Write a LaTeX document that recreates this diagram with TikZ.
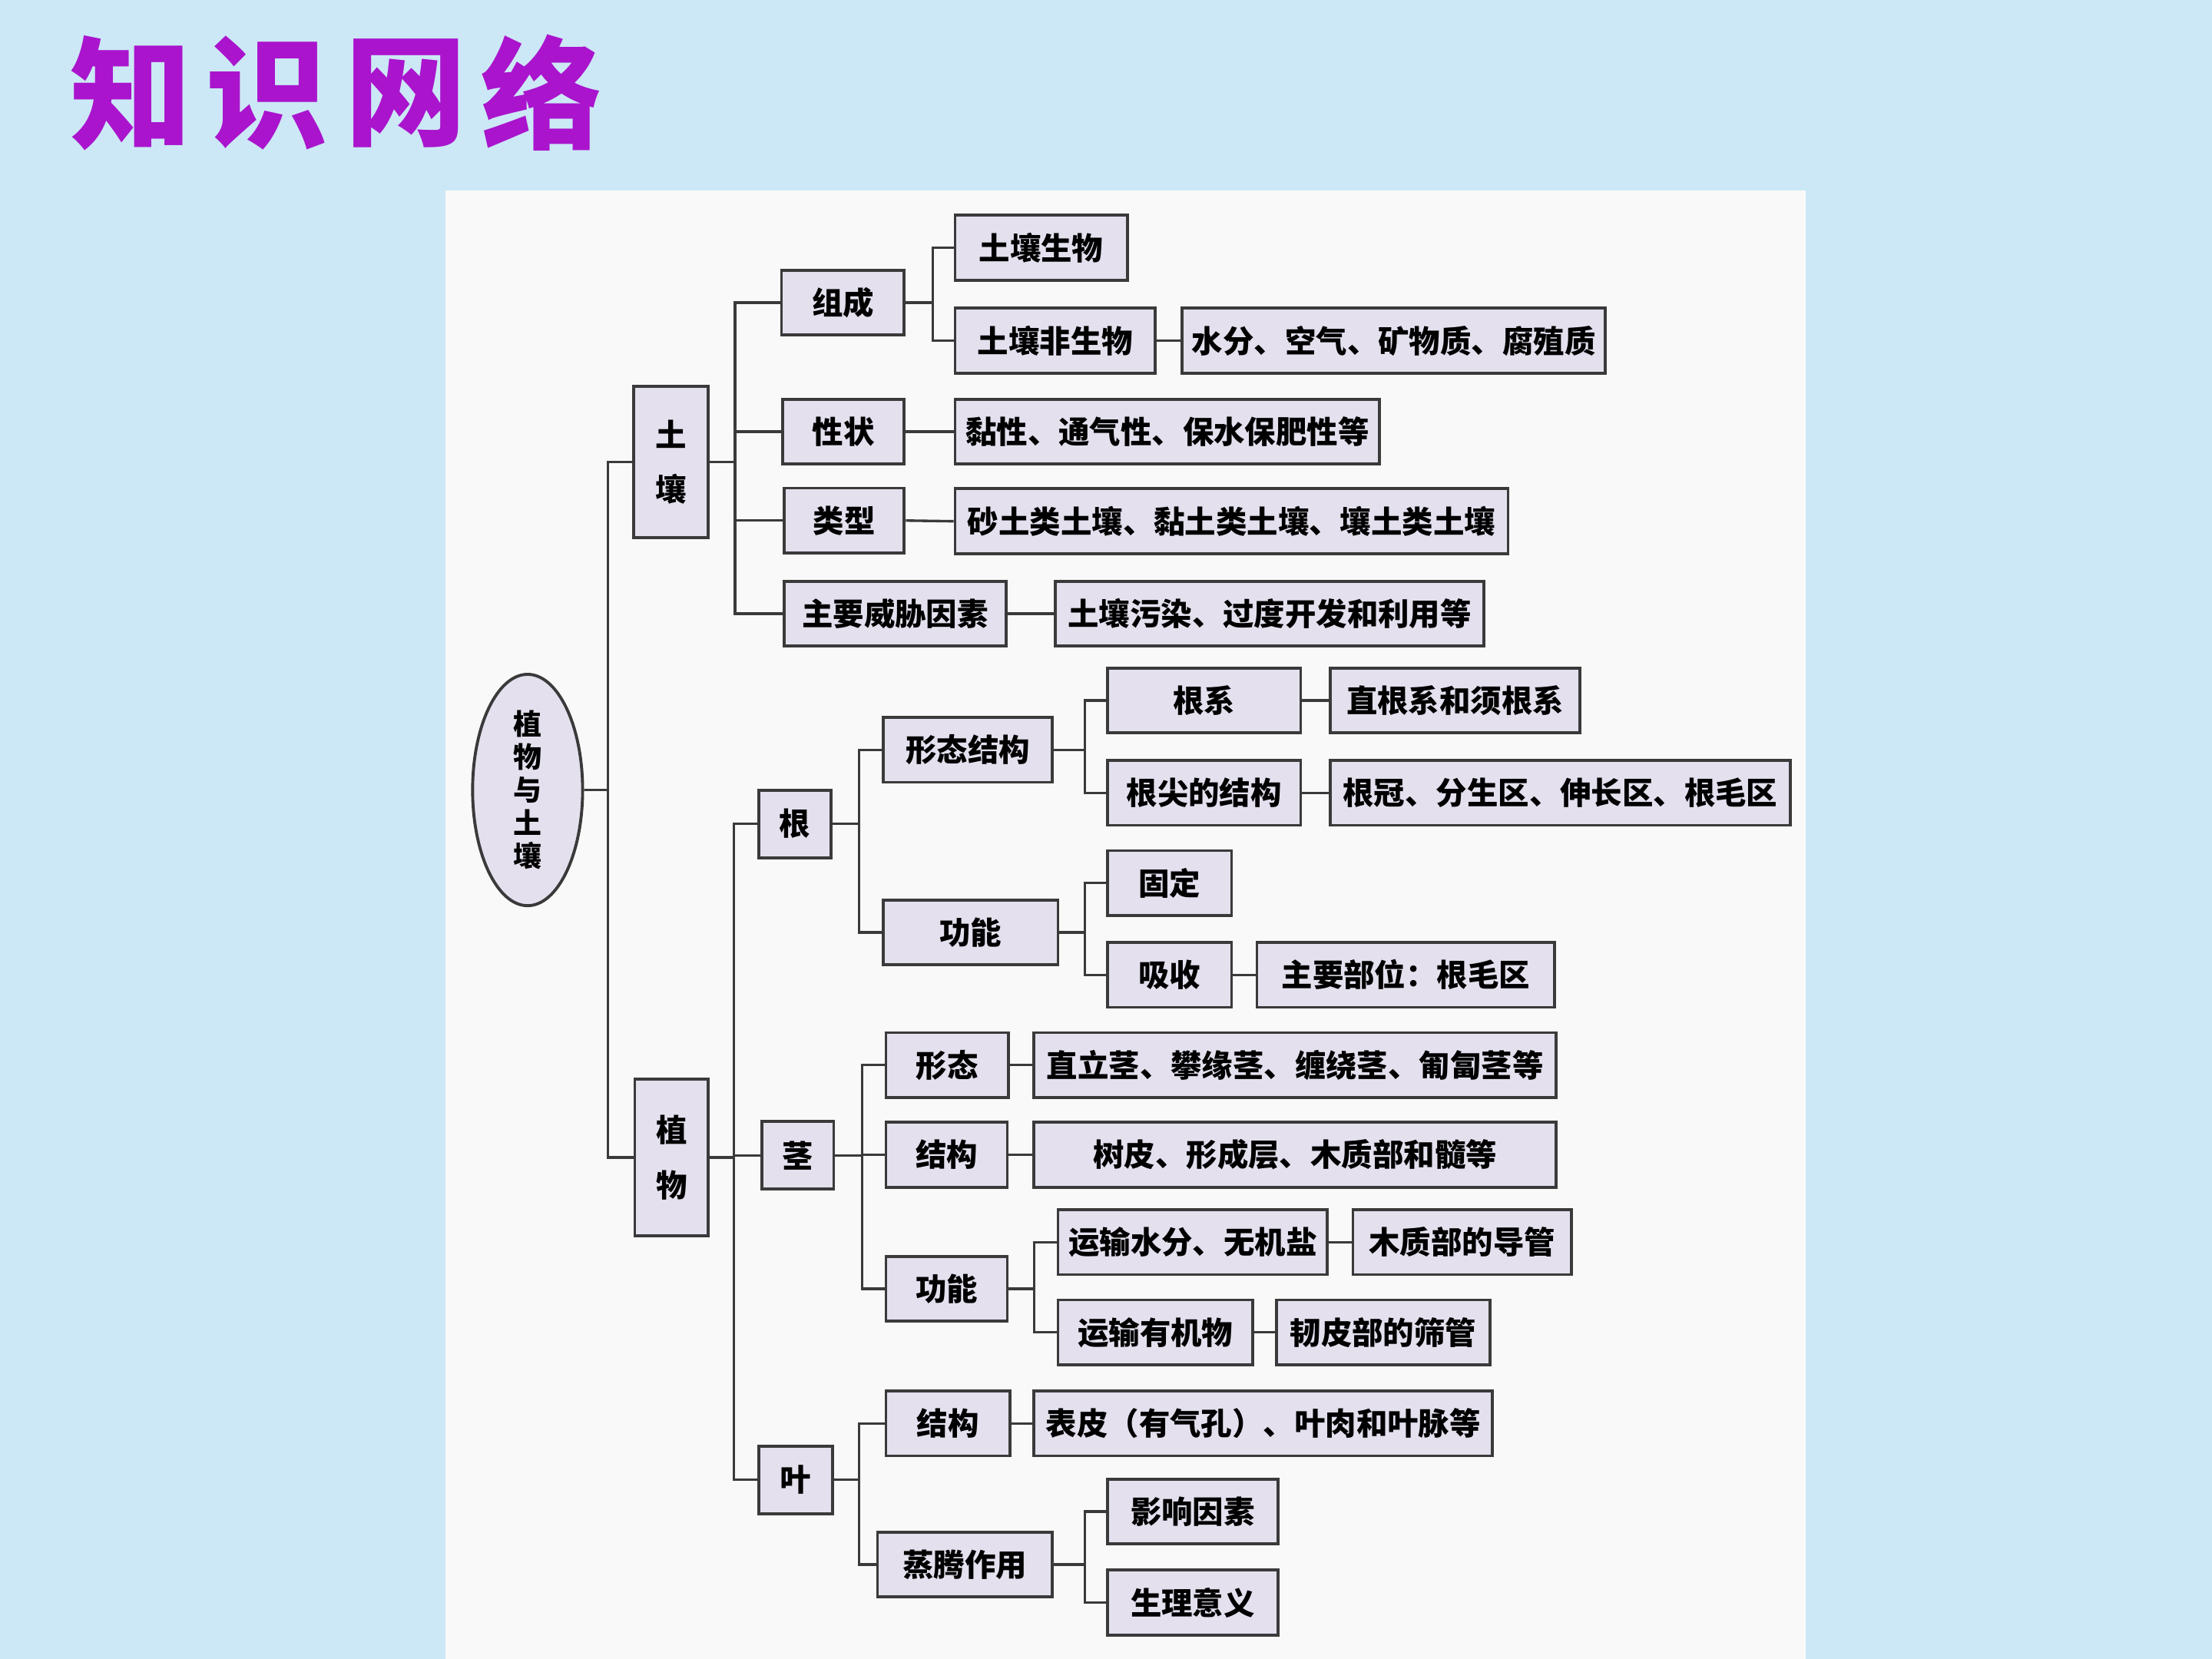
\documentclass[tikz,border=0pt]{standalone}
\usepackage{fontspec}
\usepackage{tikz}
\usetikzlibrary{positioning,shapes.geometric}
\newfontfamily\cjk{Noto Sans CJK SC}
\newcommand{\unitpx}{0.18367mm}
\definecolor{bgblue}{RGB}{204,232,246}
\definecolor{panel}{RGB}{249,249,249}
\definecolor{boxfill}{RGB}{228,224,238}
\definecolor{edge}{RGB}{58,58,58}
\definecolor{titlep}{RGB}{170,20,205}
\tikzset{
  box/.style={draw=edge, line width=1.1pt, fill=boxfill, inner sep=0pt,
    minimum height=46*\unitpx, font=\cjk\bfseries\fontsize{11.5pt}{14pt}\selectfont},
  vbox/.style={align=center, font=\cjk\bfseries\fontsize{11.5pt}{20.4pt}\selectfont},
  root/.style={ellipse, draw=edge, line width=1.1pt, fill=boxfill, inner sep=0pt,
    minimum width=78*\unitpx, minimum height=164*\unitpx, align=center,
    font=\cjk\bfseries\fontsize{10.5pt}{12.2pt}\selectfont},
  link/.style={draw=edge, line width=0.95pt},
  titlech/.style={inner sep=0pt, text=titlep, font=\cjk\bfseries\fontsize{45pt}{50pt}\selectfont},
}

\begin{document}
\begin{tikzpicture}[x=0.18367mm, y=-0.18367mm]
\useasboundingbox (0,0) rectangle (1568,1176);
\fill[bgblue] (0,0) rectangle (1568,1176);
\fill[panel] (316,135) rectangle (1280,1176);
% title
\foreach \ch/\xx in {知/93,识/189,网/288,络/384}
  \node[titlech] (t-\xx) at (\xx,66) {\ch};
% root and first level
\node[root] (root) at (374,560) {植\\物\\与\\土\\壤};
\node[box, vbox, minimum width=53*\unitpx, minimum height=107*\unitpx] (soil) at (475.5,327.5) {土\\壤};
\node[box, vbox, minimum width=52*\unitpx, minimum height=111*\unitpx] (plant) at (476,820.5) {植\\物};
% soil branch
\node[box, minimum width=87*\unitpx] (zc) at (597.5,214.5) {组成};
\node[box, minimum width=86*\unitpx] (xz) at (598,306) {性状};
\node[box, minimum width=85*\unitpx] (lx) at (598.5,369) {类型};
\node[box, minimum width=157*\unitpx] (wx) at (634.5,435) {主要威胁因素};
\node[box, minimum width=122*\unitpx] (sw) at (738,175.5) {土壤生物};
\node[box, minimum width=142*\unitpx] (fsw) at (748,241.5) {土壤非生物};
\node[box, minimum width=300*\unitpx] (fswx) at (988,241.5) {水分、空气、矿物质、腐殖质};
\node[box, minimum width=301*\unitpx] (xzx) at (827.5,306) {黏性、通气性、保水保肥性等};
\node[box, minimum width=392*\unitpx] (lxx) at (873,369.5) {砂土类土壤、黏土类土壤、壤土类土壤};
\node[box, minimum width=304*\unitpx] (wxx) at (900,435) {土壤污染、过度开发和利用等};
% plant branch
\node[box, minimum width=51*\unitpx, minimum height=48*\unitpx] (gen) at (563.5,584) {根};
\node[box, minimum width=51*\unitpx, minimum height=48*\unitpx] (jing) at (565.5,819) {茎};
\node[box, minimum width=52*\unitpx, minimum height=48*\unitpx] (ye) at (564,1049) {叶};
% root (gen)
\node[box, minimum width=120*\unitpx] (gxt) at (686,531.5) {形态结构};
\node[box, minimum width=124*\unitpx] (ggn) at (688,661) {功能};
\node[box, minimum width=137*\unitpx] (gx) at (853.5,496.5) {根系};
\node[box, minimum width=177*\unitpx] (gxx) at (1031.5,496.5) {直根系和须根系};
\node[box, minimum width=137*\unitpx] (gj) at (853.5,562) {根尖的结构};
\node[box, minimum width=326*\unitpx] (gjx) at (1106,562) {根冠、分生区、伸长区、根毛区};
\node[box, minimum width=88*\unitpx] (gd) at (829,626) {固定};
\node[box, minimum width=88*\unitpx] (xs) at (829,691) {吸收};
\node[box, minimum width=211*\unitpx] (xsx) at (996.5,691) {主要部位：根毛区};
% stem
\node[box, minimum width=87*\unitpx] (jxt) at (671.5,755) {形态};
\node[box, minimum width=370*\unitpx] (jxtx) at (918,755) {直立茎、攀缘茎、缠绕茎、匍匐茎等};
\node[box, minimum width=86*\unitpx] (jjg) at (671,818.5) {结构};
\node[box, minimum width=370*\unitpx] (jjgx) at (918,818.5) {树皮、形成层、木质部和髓等};
\node[box, minimum width=86*\unitpx] (jgn) at (671,913.5) {功能};
\node[box, minimum width=191*\unitpx] (ys1) at (845.5,880.5) {运输水分、无机盐};
\node[box, minimum width=155*\unitpx] (ys1x) at (1036.5,880.5) {木质部的导管};
\node[box, minimum width=138*\unitpx] (ys2) at (819,944.5) {运输有机物};
\node[box, minimum width=151*\unitpx] (ys2x) at (980.5,944.5) {韧皮部的筛管};
% leaf
\node[box, minimum width=88*\unitpx] (yjg) at (672,1009) {结构};
\node[box, minimum width=325*\unitpx] (yjgx) at (895.5,1009) {表皮（有气孔）、叶肉和叶脉等};
\node[box, minimum width=124*\unitpx] (zt) at (684,1109) {蒸腾作用};
\node[box, minimum width=121*\unitpx] (yx) at (845.5,1071.5) {影响因素};
\node[box, minimum width=121*\unitpx] (yy) at (845.5,1136) {生理意义};
% connectors
\foreach \c in {soil,plant} \draw[link] (root.east) -- ++(17,0) |- (\c.west);
\foreach \c in {zc,xz,lx,wx} \draw[link] (soil.east) -- ++(18,0) |- (\c.west);
\foreach \c in {sw,fsw} \draw[link] (zc.east) -- ++(19,0) |- (\c.west);
\draw[link] (fsw.east) -- (fswx.west);
\draw[link] (xz.east) -- (xzx.west);
\draw[link] (lx.east) -- (lxx.west);
\draw[link] (wx.east) -- (wxx.west);
\foreach \c in {gen,jing,ye} \draw[link] (plant.east) -- ++(17,0) |- (\c.west);
\foreach \c in {gxt,ggn} \draw[link] (gen.east) -- ++(19,0) |- (\c.west);
\foreach \c in {gx,gj} \draw[link] (gxt.east) -- ++(22,0) |- (\c.west);
\draw[link] (gx.east) -- (gxx.west);
\draw[link] (gj.east) -- (gjx.west);
\foreach \c in {gd,xs} \draw[link] (ggn.east) -- ++(18,0) |- (\c.west);
\draw[link] (xs.east) -- (xsx.west);
\foreach \c in {jxt,jjg,jgn} \draw[link] (jing.east) -- ++(19,0) |- (\c.west);
\draw[link] (jxt.east) -- (jxtx.west);
\draw[link] (jjg.east) -- (jjgx.west);
\foreach \c in {ys1,ys2} \draw[link] (jgn.east) -- ++(18,0) |- (\c.west);
\draw[link] (ys1.east) -- (ys1x.west);
\draw[link] (ys2.east) -- (ys2x.west);
\foreach \c in {yjg,zt} \draw[link] (ye.east) -- ++(18,0) |- (\c.west);
\draw[link] (yjg.east) -- (yjgx.west);
\foreach \c in {yx,yy} \draw[link] (zt.east) -- ++(22,0) |- (\c.west);
\end{tikzpicture}
\end{document}
